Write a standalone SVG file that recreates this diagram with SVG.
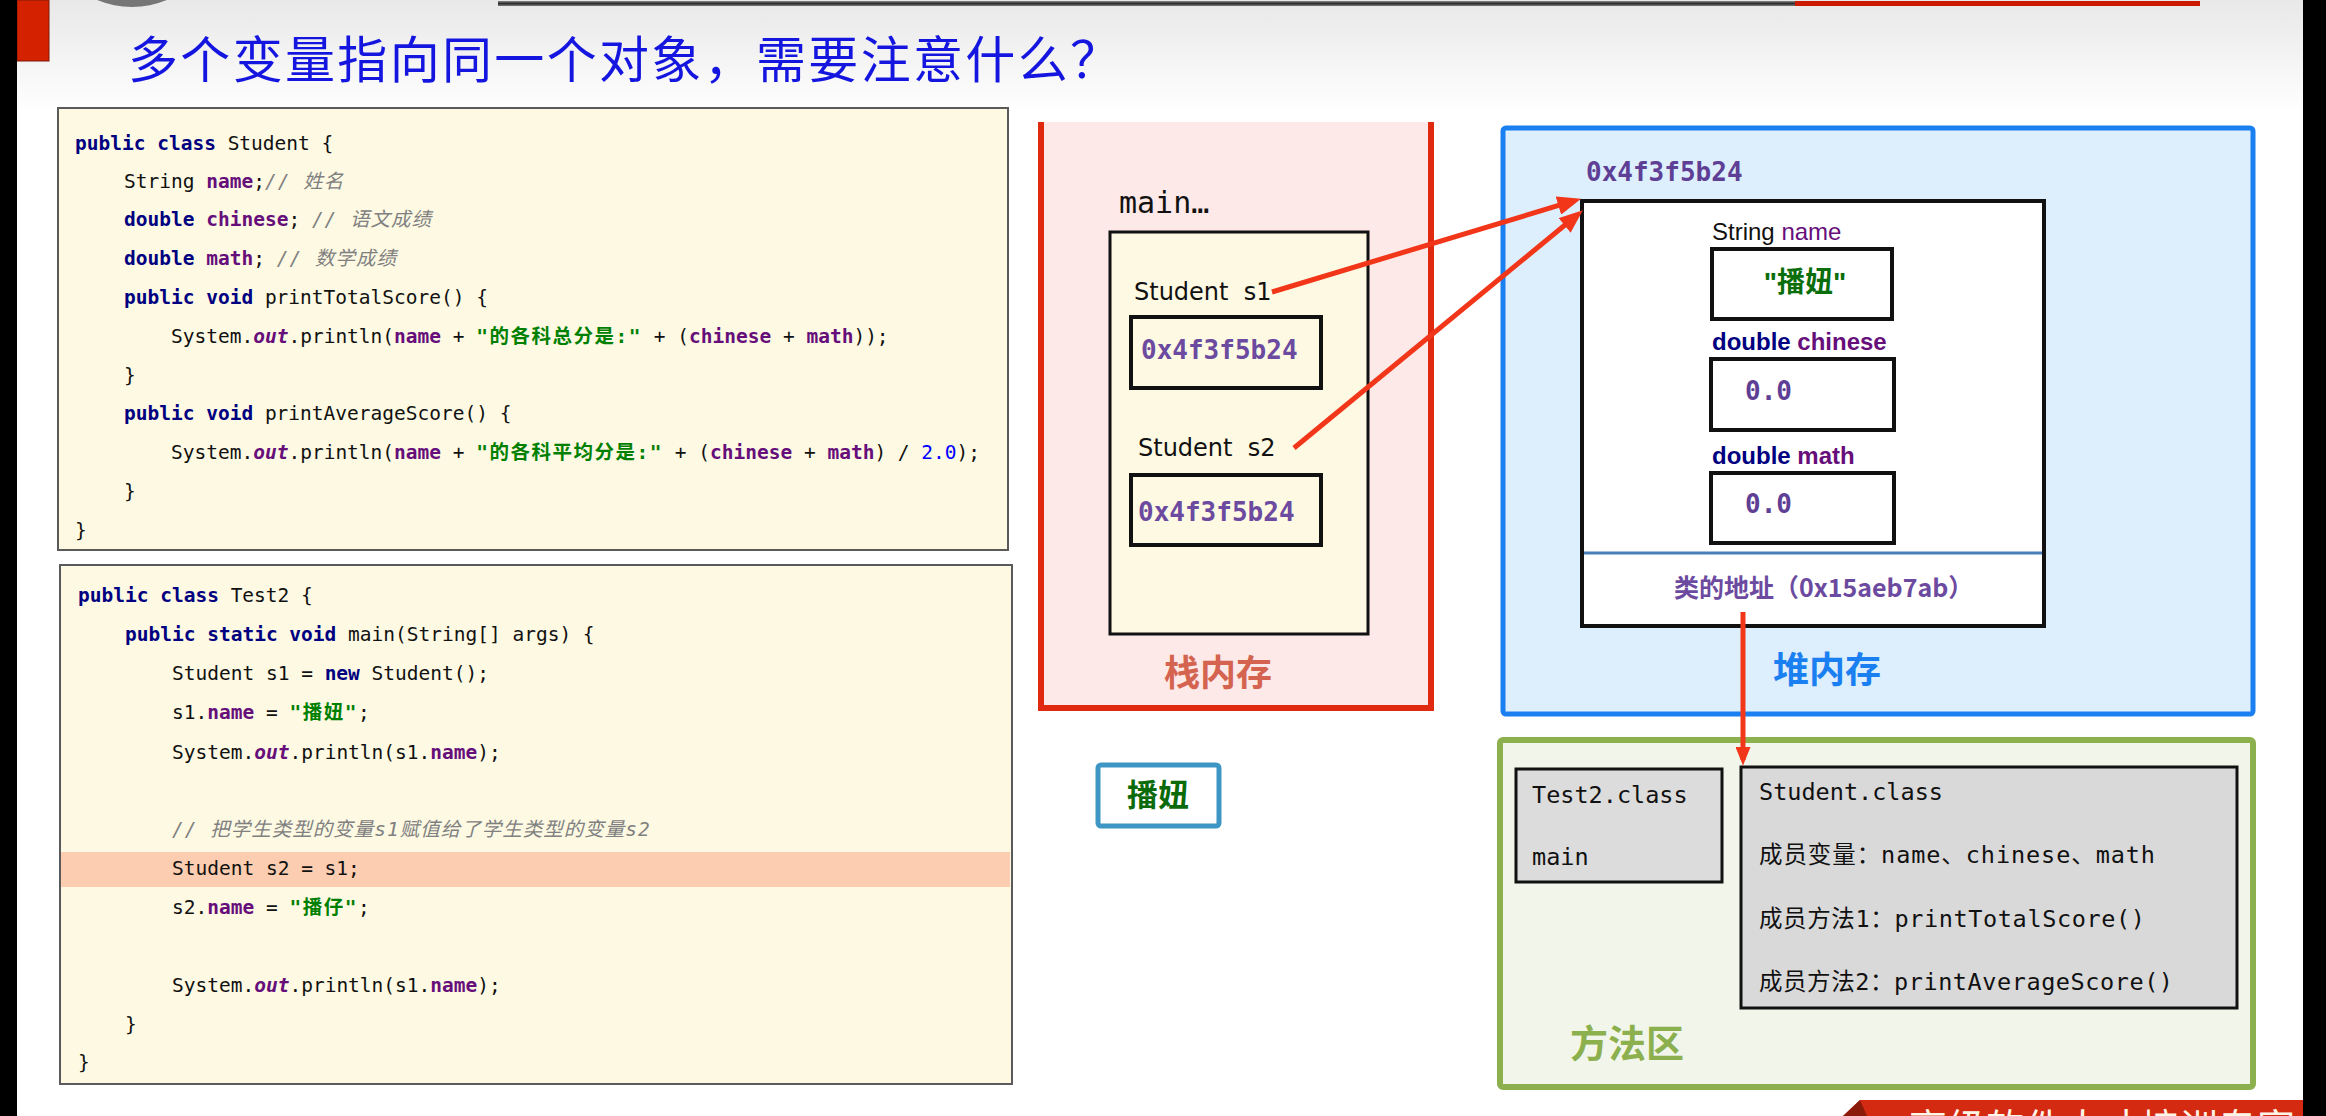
<svg xmlns="http://www.w3.org/2000/svg" width="2326" height="1116" viewBox="0 0 2326 1116">
<defs>
<linearGradient id="hdr" x1="0" y1="0" x2="0" y2="1">
<stop offset="0" stop-color="#e8e8e8"/>
<stop offset="1" stop-color="#ffffff"/>
</linearGradient>
<linearGradient id="topline" x1="0" y1="0" x2="0" y2="1">
<stop offset="0" stop-color="#8a8a8a"/>
<stop offset="0.5" stop-color="#2e2e2e"/>
<stop offset="1" stop-color="#7a7a7a"/>
</linearGradient>
<marker id="ah" viewBox="0 0 10 8" refX="7" refY="4" markerWidth="24" markerHeight="19" markerUnits="userSpaceOnUse" orient="auto">
<path d="M0,0 L10,4 L0,8 z" fill="#f2361a"/>
</marker>
<marker id="ahv" viewBox="0 0 10 8" refX="7" refY="4" markerWidth="20" markerHeight="15" markerUnits="userSpaceOnUse" orient="auto">
<path d="M0,0 L10,4 L0,8 z" fill="#f2361a"/>
</marker>
</defs>
<style>
.code { font-family: "DejaVu Sans Mono", "Noto Sans CJK SC", monospace; font-size: 19.5px; fill: #111; }
.kw { fill: #000080; font-weight: bold; }
.fd { fill: #660e7a; font-weight: bold; }
.st { fill: #008000; font-weight: bold; letter-spacing: 1.5px; }
.cm { fill: #808080; font-style: italic; letter-spacing: 1px; }
.so { fill: #660e7a; font-weight: bold; font-style: italic; }
.nm { fill: #0000ff; }
.codebox { fill: #fdf9e3; stroke: #5a5a5a; stroke-width: 2; }
.sans { font-family: "DejaVu Sans", "Noto Sans CJK SC", sans-serif; }
.mono { font-family: "DejaVu Sans Mono", "Noto Sans CJK SC", monospace; }
.lab { font-family: "Liberation Sans", "Noto Sans CJK SC", sans-serif; font-size: 24px; }
.addr { font-family: "DejaVu Sans Mono", monospace; font-size: 26px; font-weight: bold; fill: #6b4aa0; }
.cell { fill: none; stroke: #111; stroke-width: 4; }
.area { font-family: "Noto Sans CJK SC", sans-serif; font-weight: bold; }
.mtxt { font-family: "DejaVu Sans Mono", "Noto Sans CJK SC", monospace; font-size: 23.5px; fill: #111; }
.conn { stroke: #f2361a; stroke-width: 5; fill: none; }
</style>

<!-- background / slide chrome -->
<rect x="0" y="0" width="2326" height="1116" fill="#ffffff"/>
<rect x="0" y="0" width="2326" height="112" fill="url(#hdr)"/>
<circle cx="132" cy="-84" r="91" fill="#767676"/>
<rect x="498" y="1" width="1297" height="5" fill="url(#topline)"/>
<rect x="1795" y="1" width="405" height="5" fill="#cc1a00"/>
<rect x="17" y="0" width="32" height="61" fill="#d42200" stroke="#7a1a0a" stroke-width="1"/>
<rect x="0" y="0" width="17" height="1116" fill="#000"/>
<rect x="2303" y="0" width="23" height="1116" fill="#000"/>

<text x="128" y="78" font-family="Noto Sans CJK SC, sans-serif" font-size="50" fill="#1515e0" textLength="992" lengthAdjust="spacing">多个变量指向同一个对象，需要注意什么？</text>

<!-- code: Student -->
<g id="code-student">
<rect class="codebox" x="58" y="108" width="950" height="442"/>
<text class="code" x="75" y="150"><tspan class="kw">public class</tspan> Student {</text>
<text class="code" x="124" y="188">String <tspan class="fd">name</tspan>;<tspan class="cm">// 姓名</tspan></text>
<text class="code" x="124" y="226"><tspan class="kw">double</tspan> <tspan class="fd">chinese</tspan>; <tspan class="cm">// 语文成绩</tspan></text>
<text class="code" x="124" y="265"><tspan class="kw">double</tspan> <tspan class="fd">math</tspan>; <tspan class="cm">// 数学成绩</tspan></text>
<text class="code" x="124" y="304"><tspan class="kw">public void</tspan> printTotalScore() {</text>
<text class="code" x="171" y="343">System.<tspan class="so">out</tspan>.println(<tspan class="fd">name</tspan> + <tspan class="st">"的各科总分是:"</tspan> + (<tspan class="fd">chinese</tspan> + <tspan class="fd">math</tspan>));</text>
<text class="code" x="124" y="382">}</text>
<text class="code" x="124" y="420"><tspan class="kw">public void</tspan> printAverageScore() {</text>
<text class="code" x="171" y="459">System.<tspan class="so">out</tspan>.println(<tspan class="fd">name</tspan> + <tspan class="st">"的各科平均分是:"</tspan> + (<tspan class="fd">chinese</tspan> + <tspan class="fd">math</tspan>) / <tspan class="nm">2.0</tspan>);</text>
<text class="code" x="124" y="498">}</text>
<text class="code" x="75" y="537">}</text>
</g>

<!-- code: Test2 -->
<g id="code-test2">
<rect class="codebox" x="60" y="565" width="952" height="519"/>
<rect x="61" y="852" width="949" height="35" fill="#fccdb0"/>
<text class="code" x="78" y="602"><tspan class="kw">public class</tspan> Test2 {</text>
<text class="code" x="125" y="641"><tspan class="kw">public static void</tspan> main(String[] args) {</text>
<text class="code" x="172" y="680">Student s1 = <tspan class="kw">new</tspan> Student();</text>
<text class="code" x="172" y="719">s1.<tspan class="fd">name</tspan> = <tspan class="st">"播妞"</tspan>;</text>
<text class="code" x="172" y="759">System.<tspan class="so">out</tspan>.println(s1.<tspan class="fd">name</tspan>);</text>
<text class="code" x="172" y="836"><tspan class="cm">// 把学生类型的变量s1赋值给了学生类型的变量s2</tspan></text>
<text class="code" x="172" y="875">Student s2 = s1;</text>
<text class="code" x="172" y="914">s2.<tspan class="fd">name</tspan> = <tspan class="st">"播仔"</tspan>;</text>
<text class="code" x="172" y="992">System.<tspan class="so">out</tspan>.println(s1.<tspan class="fd">name</tspan>);</text>
<text class="code" x="125" y="1031">}</text>
<text class="code" x="78" y="1069">}</text>
</g>

<!-- stack memory -->
<g id="stack">
<rect x="1041" y="122" width="390" height="587" fill="#fde9e7"/>
<path d="M1041,122 V708 H1431 V122" fill="none" stroke="#e02a10" stroke-width="6"/>
<text class="area" x="1164" y="686" font-size="36" fill="#d4634f">栈内存</text>
</g>
<g id="main-frame">
<text class="mono" x="1119" y="213" font-size="30" fill="#111">main…</text>
<rect x="1110" y="232" width="258" height="402" fill="#fdf9e3" stroke="#111" stroke-width="3"/>
</g>
<g id="var-s1">
<text class="sans" x="1134" y="300" font-size="24" fill="#111" xml:space="preserve">Student  s1</text>
<rect class="cell" x="1131" y="317" width="190" height="71"/>
<text class="addr" x="1141" y="359">0x4f3f5b24</text>
</g>
<g id="var-s2">
<text class="sans" x="1138" y="456" font-size="24" fill="#111" xml:space="preserve">Student  s2</text>
<rect class="cell" x="1131" y="475" width="190" height="70"/>
<text class="addr" x="1138" y="521">0x4f3f5b24</text>
</g>

<!-- output box -->
<g id="output">
<rect x="1098" y="765" width="121" height="61" rx="3" fill="#fff" stroke="#3d96c4" stroke-width="5"/>
<text class="area" x="1158" y="806" font-size="31" fill="#0b6b0b" text-anchor="middle">播妞</text>
</g>

<!-- heap memory -->
<g id="heap">
<rect x="1503" y="128" width="750" height="586" rx="3" fill="#ddeefc" stroke="#1a7ff0" stroke-width="5"/>
<text class="area" x="1773" y="683" font-size="36" fill="#1a7ff0">堆内存</text>
</g>
<g id="student-object">
<text class="mono" x="1586" y="181" font-size="26" font-weight="bold" fill="#5e3f95">0x4f3f5b24</text>
<rect x="1582" y="201" width="462" height="425" fill="#fff" stroke="#111" stroke-width="4"/>
<text class="lab" x="1712" y="240" fill="#111">String <tspan fill="#660e7a">name</tspan></text>
<rect class="cell" x="1712" y="249" width="180" height="70"/>
<text x="1805" y="292" font-family="Liberation Sans, Noto Sans CJK SC, sans-serif" font-size="28" font-weight="bold" fill="#0a6e0a" text-anchor="middle">"播妞"</text>
<text class="lab" x="1712" y="350" font-weight="bold"><tspan fill="#000080">double</tspan> <tspan fill="#660e7a">chinese</tspan></text>
<rect class="cell" x="1711" y="359" width="183" height="71"/>
<text class="mono" x="1745" y="400" font-size="26" font-weight="bold" fill="#5e3f95">0.0</text>
<text class="lab" x="1712" y="464" font-weight="bold"><tspan fill="#000080">double</tspan> <tspan fill="#660e7a">math</tspan></text>
<rect class="cell" x="1711" y="473" width="183" height="70"/>
<text class="mono" x="1745" y="513" font-size="26" font-weight="bold" fill="#5e3f95">0.0</text>
<line x1="1584" y1="553" x2="2042" y2="553" stroke="#4a7ebb" stroke-width="3"/>
<text x="1674" y="597" font-family="Noto Sans CJK SC, sans-serif" font-size="25" font-weight="bold" fill="#6b4aa0">类的地址（0x15aeb7ab）</text>
</g>

<!-- method area -->
<g id="method-area">
<rect x="1500" y="740" width="753" height="347" rx="3" fill="#f2f6ea" stroke="#8db04f" stroke-width="6"/>
<text class="area" x="1570" y="1057" font-size="38" fill="#8db04f">方法区</text>
</g>
<g id="test2-class">
<rect x="1516" y="769" width="206" height="113" fill="#dcdcdc" stroke="#111" stroke-width="3"/>
<text class="mtxt" x="1532" y="803">Test2.class</text>
<text class="mtxt" x="1532" y="865">main</text>
</g>
<g id="student-class">
<rect x="1741" y="767" width="496" height="241" fill="#d9d9d9" stroke="#111" stroke-width="3"/>
<text class="mtxt" x="1759" y="800">Student.class</text>
<text class="mtxt" x="1759" y="863" textLength="396" lengthAdjust="spacing">成员变量：name、chinese、math</text>
<text class="mtxt" x="1759" y="927" textLength="386" lengthAdjust="spacing">成员方法1：printTotalScore()</text>
<text class="mtxt" x="1759" y="990" textLength="414" lengthAdjust="spacing">成员方法2：printAverageScore()</text>
</g>

<!-- connectors -->
<g id="connectors">
<line class="conn" x1="1272" y1="292" x2="1574.3" y2="200.7" marker-end="url(#ah)"/>
<line class="conn" x1="1294" y1="448" x2="1577.4" y2="214.8" marker-end="url(#ah)"/>
<line class="conn" x1="1743" y1="612" x2="1743" y2="760" marker-end="url(#ahv)"/>
</g>

<!-- footer banner -->
<polygon points="1843,1116 1860,1100 2303,1100 2303,1116" fill="#d42a12"/>
<polygon points="1843,1116 1860,1100 1867,1116" fill="#8a1a0a"/>
<text x="1909" y="1141" font-family="Noto Sans CJK SC, sans-serif" font-size="38" fill="#fff5e6" textLength="386" lengthAdjust="spacing">高级软件人才培训专家</text>
</svg>
